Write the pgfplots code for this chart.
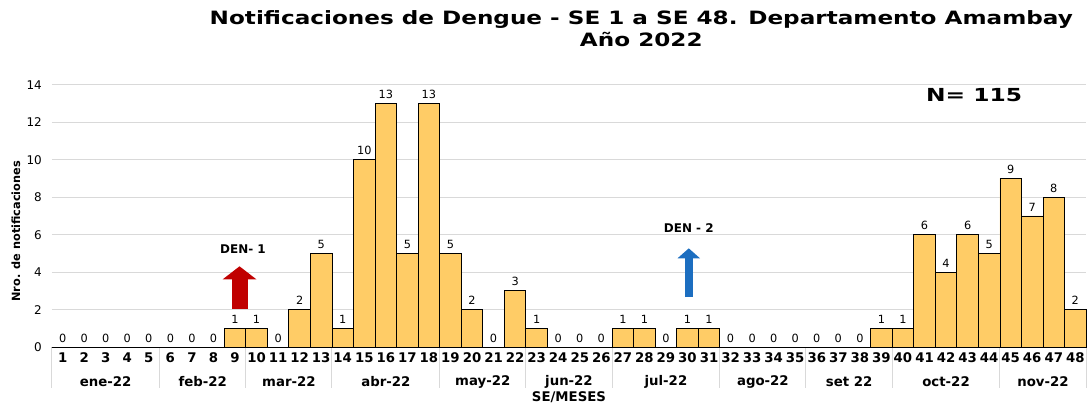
\documentclass[border=0pt]{standalone}
\usepackage{fontspec}
\setmainfont{DejaVu Sans}
\newfontfamily\wtitle[FakeStretch=1.26]{DejaVu Sans}
\newfontfamily\wN[FakeStretch=1.3]{DejaVu Sans}
\usepackage{pgfplots}
\pgfplotsset{compat=1.18}
\usetikzlibrary{arrows.meta}
\definecolor{barfill}{RGB}{255,204,102}
\definecolor{gridc}{RGB}{217,217,217}
\definecolor{arrred}{RGB}{192,0,0}
\definecolor{arrblue}{RGB}{28,110,192}
\begin{document}
\begin{tikzpicture}
\path (-39pt,-42.75pt) rectangle (777.75pt,261pt);
\begin{axis}[
 at={(0,0)}, anchor=south west,
 scale only axis, width=777.75pt, height=197.25pt,
 xmin=0.5, xmax=48.5, ymin=0, ymax=14,
 ybar, bar width=1,
 ytick={0,2,...,14},
 xtick={1,...,48},
 ymajorgrids, grid style={gridc, line width=0.75pt},
 major tick length=0pt,
 axis line style={draw=none},
 tick label style={font=\fontsize{9}{10}\selectfont},
 yticklabel style={xshift=-4pt},
 xticklabel style={font=\bfseries\fontsize{10}{12}\selectfont, yshift=-1pt},
 /pgf/number format/assume math mode=true,
 nodes near coords,
 nodes near coords style={font=\fontsize{8.5}{10}\selectfont, black},
 clip=false,
]
\draw[gridc, line width=0.75pt] (axis cs:0.5,0) -- (axis cs:48.5,0);
\pgfplotsinvokeforeach{0.5,5.5,9.5,13.5,18.5,22.5,26.5,31.5,35.5,39.5,44.5,48.5}{
  \draw[gridc, line width=0.75pt] (axis cs:#1,0) -- ++(0pt,-31pt);
}
\addplot[fill=barfill, draw=black, line width=0.6pt] coordinates {
(1,0) (2,0) (3,0) (4,0) (5,0) (6,0) (7,0) (8,0) (9,1) (10,1)
(11,0) (12,2) (13,5) (14,1) (15,10) (16,13) (17,5) (18,13) (19,5) (20,2)
(21,0) (22,3) (23,1) (24,0) (25,0) (26,0) (27,1) (28,1) (29,0) (30,1)
(31,1) (32,0) (33,0) (34,0) (35,0) (36,0) (37,0) (38,0) (39,1) (40,1)
(41,6) (42,4) (43,6) (44,5) (45,9) (46,7) (47,8) (48,2)
};
\begin{scope}[every node/.style={font=\bfseries\fontsize{10}{12}\selectfont, yshift=-26pt}]
\node at (axis cs:3,0) {ene-22};
\node at (axis cs:7.5,0) {feb-22};
\node at (axis cs:11.5,0) {mar-22};
\node at (axis cs:16,0) {abr-22};
\node at (axis cs:20.5,0) {may-22};
\node at (axis cs:24.5,0) {jun-22};
\node at (axis cs:29,0) {jul-22};
\node at (axis cs:33.5,0) {ago-22};
\node at (axis cs:37.5,0) {set 22};
\node at (axis cs:42,0) {oct-22};
\node at (axis cs:46.5,0) {nov-22};
\end{scope}
\node[font=\bfseries\fontsize{10}{12}\selectfont] at ([yshift=-37.5pt]axis cs:24.5,0) {SE/MESES};
\node[font=\bfseries\fontsize{8.5}{10}\selectfont, rotate=90] at ([xshift=-27pt,yshift=87pt]rel axis cs:0,0) {Nro. de notificaciones};
\draw[arrred, line width=12pt, -{Triangle[length=9.75pt,width=24.75pt]}] (axis cs:9.21,2.02) -- (axis cs:9.21,4.31);
\draw[arrblue, line width=6pt, -{Triangle[length=7.5pt,width=16.5pt]}] (axis cs:30.06,0.0) ++(0pt,37.5pt) -- (axis cs:30.06,5.27);
\node[font=\bfseries\fontsize{9}{11}\selectfont] at (axis cs:9.37,5.22) {DEN- 1};
\node[font=\bfseries\fontsize{9}{11}\selectfont] at (axis cs:30.06,6.33) {DEN - 2};
\node[font=\wN\bfseries\fontsize{13.5}{16}\selectfont] at (axis cs:43.3,13.47) {N= 115};
\end{axis}
\node[font=\wtitle\bfseries\fontsize{13.8}{16.5}\selectfont, align=center] at (443.25pt,239.25pt) {Notificaciones de Dengue - SE 1 a SE 48. Departamento Amambay\\Año 2022};
\end{tikzpicture}
\end{document}
